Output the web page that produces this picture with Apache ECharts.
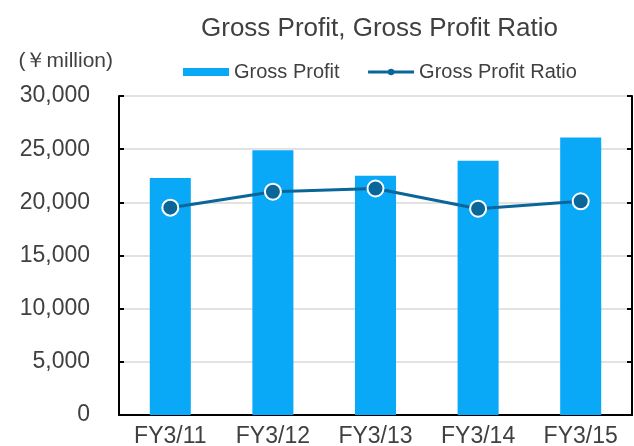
<!DOCTYPE html>
<html>
<head>
<meta charset="utf-8">
<script src="https://cdn.jsdelivr.net/npm/echarts@6.0.0/dist/echarts.min.js"></script>
<style>
  html, body { margin: 0; padding: 0; background: #fff; }
  #main { width: 634px; height: 446px; }
</style>
</head>
<body>
<div id="main"></div>
<script>
// data
var years = ['FY3/11', 'FY3/12', 'FY3/13', 'FY3/14', 'FY3/15'];
var grossProfit = [22300, 24900, 22500, 23900, 26100];   // ¥ million
var grossProfitRatio = [19.5, 21.0, 21.3, 19.4, 20.1];   // %, plotted on hidden right scale

var barColor = '#0aa9f8';
var lineColor = '#0a6699';
var font = "'Liberation Sans', Arial, sans-serif";

var myChart = echarts.init(document.getElementById('main'));
var option = {
    backgroundColor: '#fff',
    animation: false,
    textStyle: { fontFamily: font, color: '#404040' },
    title: {
        text: 'Gross Profit, Gross Profit Ratio',
        left: 196,
        top: 11,
        textStyle: { fontFamily: font, fontSize: 26, fontWeight: 'normal', color: '#404040' }
    },
    legend: {
        left: 183,
        top: 62,
        padding: 0,
        itemWidth: 46,
        itemHeight: 8,
        itemGap: 27,
        textStyle: { fontFamily: font, fontSize: 20, color: '#404040' },
        data: [
            { name: 'Gross Profit', icon: 'rect' },
            { name: 'Gross Profit Ratio', lineStyle: { width: 3 }, itemStyle: { borderWidth: 0 } }
        ]
    },
    grid: { left: 119, right: 2, top: 96, bottom: 31, outerBoundsMode: 'none', containLabel: false },
    xAxis: {
        type: 'category',
        data: years,
        axisLine: { lineStyle: { color: '#000', width: 2 } },
        axisTick: { inside: true, length: 5, lineStyle: { color: '#000', width: 2 } },
        axisLabel: { fontFamily: font, fontSize: 23, color: '#404040', margin: 10 }
    },
    yAxis: [
        {
            type: 'value',
            min: 0,
            max: 30000,
            interval: 5000,
            name: '(\uffe5million)',
            nameLocation: 'end',
            nameGap: 24,
            nameTextStyle: { fontFamily: font, fontSize: 21, color: '#404040', align: 'right', padding: [0, 6, 0, 0] },
            axisLine: { show: true, lineStyle: { color: '#000', width: 2 } },
            axisTick: { show: true, inside: true, length: 5, lineStyle: { color: '#000', width: 2 } },
            axisLabel: {
                fontFamily: font, fontSize: 23, color: '#404040', margin: 29,
                formatter: function (v) { return v.toLocaleString('en-US'); }
            },
            splitLine: { lineStyle: { color: '#d9d9d9', width: 1.5 } }
        },
        {
            type: 'value',
            min: 0,
            max: 30,
            interval: 5,
            position: 'right',
            axisLine: { show: true, lineStyle: { color: '#000', width: 2 } },
            axisTick: { show: true, inside: true, length: 5, lineStyle: { color: '#000', width: 2 } },
            axisLabel: { show: false },
            splitLine: { show: false }
        }
    ],
    series: [
        {
            name: 'Gross Profit',
            type: 'bar',
            barWidth: '40%',
            itemStyle: { color: barColor },
            data: grossProfit
        },
        {
            name: 'Gross Profit Ratio',
            type: 'line',
            yAxisIndex: 1,
            symbol: 'circle',
            symbolSize: 16,
            lineStyle: { color: lineColor, width: 3 },
            itemStyle: { color: lineColor, borderColor: '#fff', borderWidth: 2 },
            data: grossProfitRatio
        }
    ]
};
myChart.setOption(option);
</script>
</body>
</html>
